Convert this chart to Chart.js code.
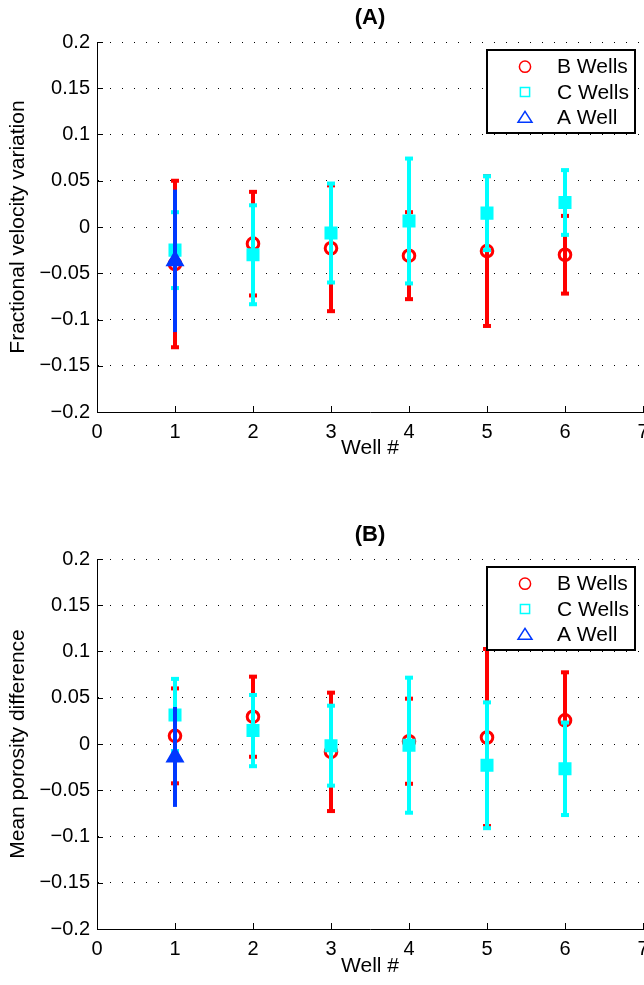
<!DOCTYPE html>
<html><head><meta charset="utf-8">
<script src="https://cdn.jsdelivr.net/npm/chart.js@4.4.1/dist/chart.umd.min.js"></script>
<style>
html,body{margin:0;padding:0;background:#fff;}
#wrap{position:relative;width:644px;height:985px;overflow:hidden;}
canvas{position:absolute;left:0;}
</style></head><body>
<div id="wrap">
<canvas id="cA" width="644" height="492" style="top:0px"></canvas>
<canvas id="cB" width="644" height="493" style="top:492px"></canvas>
</div>
<script>
// ---------- data ----------
const wells = [1, 2, 3, 4, 5, 6];
const aWell = [1];
const seriesNames = ['B Wells', 'C Wells', 'A Well'];
const xTickLabels = ['0', '1', '2', '3', '4', '5', '6', '7'];
const yTickLabels = ['\u22120.2', '\u22120.15', '\u22120.1', '\u22120.05', '0', '0.05', '0.1', '0.15', '0.2'];
const titleA = '(A)';
const titleB = '(B)';
const yTitleA = 'Fractional velocity variation';
const yTitleB = 'Mean porosity difference';
const xTitle = 'Well #';

// Panel A: fractional velocity variation (mean, half error)
const bWellsA    = [-0.040, -0.018, -0.023, -0.031, -0.026, -0.030];
const bWellsAErr = [0.090, 0.056, 0.068, 0.047, 0.081, 0.042];
const cWellsA    = [-0.025, -0.030, -0.0065, 0.0065, 0.015, 0.0265];
const cWellsAErr = [0.041, 0.0535, 0.0535, 0.0675, 0.040, 0.035];
const aWellA     = [-0.0366];
const aWellAErr  = [0.077];

// Panel B: mean porosity difference
const bWellsB    = [0.0088, 0.0295, -0.0085, 0.003, 0.007, 0.0255];
const bWellsBErr = [0.0513, 0.0433, 0.064, 0.046, 0.0957, 0.052];
const cWellsB    = [0.0314, 0.0145, -0.0018, -0.0013, -0.023, -0.0268];
const cWellsBErr = [0.039, 0.0385, 0.0432, 0.073, 0.068, 0.050];
const aWellB     = [-0.014];
const aWellBErr  = [0.054];

// ---------- styling / plugins ----------
const FONT = '"Liberation Sans", Arial, Helvetica, sans-serif';
Chart.defaults.font.family = FONT;
Chart.defaults.color = '#000';

const RED = '#ff0000', CYAN = '#00ffff', BLUE = '#0038ff';
const ZERO_PAD = () => ({left: 0, top: 0, right: 0, bottom: 0});

const errorBars = {
  id: 'errorBars',
  beforeDatasetDraw(chart, args) {
    const ds = chart.data.datasets[args.index];
    if (!ds.errors) return;
    const {ctx, scales: {x, y}} = chart;
    ctx.save();
    ctx.strokeStyle = ds.borderColor;
    ctx.fillStyle = ds.borderColor;
    ctx.lineWidth = ds.errLineWidth;
    ds.data.forEach((p, i) => {
      const e = ds.errors[i];
      const px = x.getPixelForValue(p.x);
      const hi = y.getPixelForValue(p.y + e);
      const lo = y.getPixelForValue(p.y - e);
      ctx.beginPath(); ctx.moveTo(px, hi); ctx.lineTo(px, lo); ctx.stroke();
      if (ds.capWidth) {
        ctx.fillRect(px - ds.capWidth / 2, hi - ds.capHeight / 2, ds.capWidth, ds.capHeight);
        ctx.fillRect(px - ds.capWidth / 2, lo - ds.capHeight / 2, ds.capWidth, ds.capHeight);
      }
    });
    ctx.restore();
  }
};

const innerTicks = {
  id: 'innerTicks',
  beforeDatasetsDraw(chart) {
    const {ctx, chartArea: a, scales: {x, y}} = chart;
    ctx.save();
    ctx.strokeStyle = '#000';
    ctx.lineWidth = 1;
    ctx.beginPath();
    x.ticks.forEach(t => {
      const px = Math.round(x.getPixelForValue(t.value)) + 0.5;
      ctx.moveTo(px, a.bottom); ctx.lineTo(px, a.bottom - 6);
    });
    y.ticks.forEach(t => {
      const py = Math.round(y.getPixelForValue(t.value)) + 0.5;
      ctx.moveTo(a.left, py); ctx.lineTo(a.left + 6, py);
    });
    ctx.stroke();
    ctx.restore();
  }
};

function legendMarker(ctx, style, cx, cy) {
  ctx.beginPath();
  if (style === 'circle') {
    ctx.arc(cx, cy, 5.6, 0, Math.PI * 2);
  } else if (style === 'rect') {
    ctx.rect(cx - 4.6, cy - 4.6, 9.2, 9.2);
  } else if (style === 'triangle') {
    ctx.moveTo(cx, cy - 6); ctx.lineTo(cx + 7, cy + 5); ctx.lineTo(cx - 7, cy + 5); ctx.closePath();
  }
  ctx.stroke();
}

const boxLegend = {
  id: 'boxLegend',
  afterDraw(chart) {
    const {ctx, chartArea: a} = chart;
    const W = 148, H = 83;
    const r = a.right - 8, l = r - W, t = a.top + 8;
    ctx.save();
    ctx.fillStyle = '#fff';
    ctx.fillRect(l, t, W, H);
    ctx.strokeStyle = '#000';
    ctx.lineWidth = 2;
    ctx.strokeRect(l, t, W, H);
    chart.data.datasets.forEach((ds, i) => {
      const cy = t + 16.7 + i * 25.3;
      ctx.strokeStyle = ds.borderColor;
      ctx.lineWidth = 1.5;
      legendMarker(ctx, ds.pointStyle, l + 38, cy);
      ctx.fillStyle = '#000';
      ctx.font = '21px ' + FONT;
      ctx.textBaseline = 'middle';
      ctx.textAlign = 'left';
      ctx.fillText(ds.label, l + 70, cy + 1);
    });
    ctx.restore();
  }
};

function pts(xs, ys) { return xs.map((x, i) => ({x: x, y: ys[i]})); }

function makePanel(canvasId, p) {
  const datasets = [
    {label: seriesNames[0], data: pts(wells, p.b), errors: p.bErr, order: 3,
     pointStyle: 'circle', pointRadius: 5.8, borderWidth: 3, borderColor: RED, backgroundColor: 'rgba(0,0,0,0)',
     errLineWidth: 4, capWidth: 8, capHeight: 4},
    {label: seriesNames[1], data: pts(wells, p.c), errors: p.cErr, order: 2,
     pointStyle: 'rect', pointRadius: 7.8, borderWidth: 2, borderColor: CYAN, backgroundColor: CYAN,
     errLineWidth: 4, capWidth: 8, capHeight: 4},
    {label: seriesNames[2], data: pts(aWell, p.a), errors: p.aErr, order: 1,
     pointStyle: 'triangle', pointRadius: 9, borderWidth: 2, borderColor: BLUE, backgroundColor: BLUE,
     errLineWidth: 4, capWidth: 0, capHeight: 0}
  ];
  return new Chart(document.getElementById(canvasId), {
    type: 'scatter',
    data: {datasets},
    plugins: [errorBars, innerTicks, boxLegend],
    options: {
      responsive: false,
      animation: false,
      events: [],
      clip: false,
      layout: {autoPadding: false, padding: {left: 0, right: 1, top: 0, bottom: 0}},
      plugins: {
        legend: {display: false},
        tooltip: {enabled: false},
        title: {
          display: true, text: p.title, fullSize: false,
          font: {size: 22, weight: 'bold', lineHeight: 1.2},
          padding: {top: p.titleTop, bottom: p.titleBottom}
        }
      },
      scales: {
        x: {
          type: 'linear', min: 0, max: 7,
          ticks: {stepSize: 1, padding: 8, font: {size: 20}, maxRotation: 0,
                  callback: (v, i) => xTickLabels[i]},
          grid: {display: false, drawTicks: false},
          border: {display: true, color: '#000', width: 1},
          title: {display: true, text: xTitle, font: {size: 21, lineHeight: 1.2},
                  padding: {top: 0, bottom: p.xTitleBottom}},
          afterFit: s => { s.height = p.xHeight; s.paddingLeft = 0; s.paddingRight = 0; s.getPadding = ZERO_PAD; }
        },
        y: {
          type: 'linear', min: -0.2, max: 0.2,
          ticks: {stepSize: 0.05, padding: 7, font: {size: 20},
                  callback: (v, i) => yTickLabels[i]},
          grid: {display: true, drawTicks: false, color: '#000', lineWidth: 1},
          border: {display: true, color: '#000', width: 1, dash: [1, 11]},
          title: {display: true, text: p.yTitle, font: {size: 21, lineHeight: 1.2},
                  padding: {top: 5.4, bottom: 0}},
          afterFit: s => { s.width = 97; s.paddingTop = 0; s.paddingBottom = 0; s.getPadding = ZERO_PAD; }
        }
      }
    }
  });
}

makePanel('cA', {
  title: titleA, yTitle: yTitleA,
  b: bWellsA, bErr: bWellsAErr, c: cWellsA, cErr: cWellsAErr, a: aWellA, aErr: aWellAErr,
  titleTop: 4.8, titleBottom: 10.8, xHeight: 80, xTitleBottom: 31.4
});
makePanel('cB', {
  title: titleB, yTitle: yTitleB,
  b: bWellsB, bErr: bWellsBErr, c: cWellsB, cErr: cWellsBErr, a: aWellB, aErr: aWellBErr,
  titleTop: 29.8, titleBottom: 10.8, xHeight: 56, xTitleBottom: 6.4
});
</script>
</body></html>
